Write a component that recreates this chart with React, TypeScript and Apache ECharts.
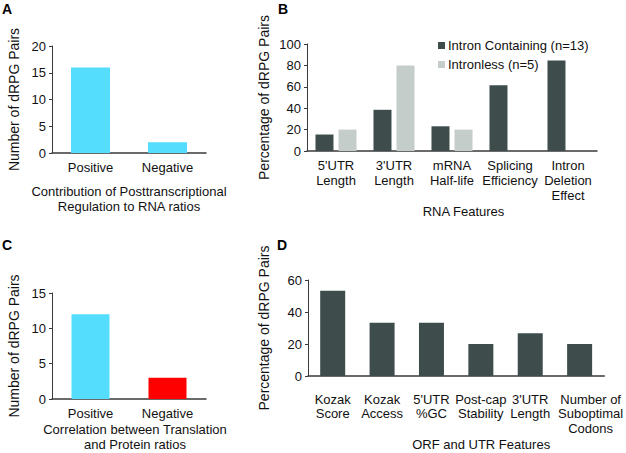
import React, { useEffect, useRef } from "react";
import * as echarts from "echarts";

const catsA = ["Positive", "Negative"];
const valsA = [16, 2];

const catsB = ["5'UTR\nLength", "3'UTR\nLength", "mRNA\nHalf-life", "Splicing\nEfficiency", "Intron\nDeletion\nEffect"];
const intronContaining = [15.4, 38.5, 23.1, 61.5, 84.6];
const intronless: (number | null)[] = [20, 80, 20, null, null];

const catsC = ["Positive", "Negative"];
const valsC = [12, 3];

const catsD = ["Kozak\nScore", "Kozak\nAccess", "5'UTR\n%GC", "Post-cap\nStability", "3'UTR\nLength", "Number of\nSuboptimal\nCodons"];
const valsD = [53.3, 33.3, 33.3, 20, 26.7, 20];

const FONT = "Liberation Sans, Arial, sans-serif";
const TXT = "#111";
const AXIS = "#3a3a3a";
const CYAN = "#55DDFE";
const RED = "#FF0000";
const DARK = "#3E4C4C";
const LIGHT = "#C4CDCA";
const FS = 13;

function yAxis(gridIndex: number, max: number, interval: number, name: string, gap: number) {
  return {
    type: "value",
    gridIndex,
    min: 0,
    max,
    interval,
    name,
    nameLocation: "middle",
    nameGap: gap,
    nameTextStyle: { fontFamily: FONT, fontSize: 14, color: TXT },
    axisLine: { show: true, lineStyle: { color: AXIS, width: 1 } },
    axisTick: { show: true, length: 3, lineStyle: { color: AXIS } },
    splitLine: { show: false },
    axisLabel: { fontFamily: FONT, fontSize: FS, color: TXT, margin: 6 },
  };
}

function xAxis(gridIndex: number, data: any[], name: string, gap: number, padLeft: number, margin: number, lh: number) {
  return {
    type: "category",
    gridIndex,
    data,
    name,
    nameLocation: "middle",
    nameGap: gap,
    nameTextStyle: { fontFamily: FONT, fontSize: FS, color: TXT, lineHeight: 15, padding: [0, 0, 0, padLeft] },
    axisLine: { show: true, lineStyle: { color: AXIS, width: 1.5 } },
    axisTick: { show: false },
    axisLabel: { fontFamily: FONT, fontSize: FS, color: TXT, margin, lineHeight: lh, interval: 0 },
  };
}

export default function App() {
  const ref = useRef<HTMLDivElement>(null);
  useEffect(() => {
    if (!ref.current) return;
    const chart = echarts.init(ref.current, null, { renderer: "svg" });
    const letter = (t: string, x: number, y: number) => ({
      type: "text",
      left: x,
      top: y,
      style: { text: t, fontFamily: FONT, fontSize: 14, fontWeight: "bold", fill: "#000" },
    });
    const dataD = catsD.map((c, i) =>
      i === catsD.length - 1 ? { value: c, textStyle: { padding: [0, 0, 0, 22] } } : c
    );
    chart.setOption({
      animation: false,
      backgroundColor: "#fff",
      grid: [
        { left: 52, top: 46, width: 154, height: 107 },
        { left: 307, top: 44, width: 290, height: 107 },
        { left: 52, top: 293, width: 154, height: 107 },
        { left: 308, top: 280, width: 298, height: 97 },
      ],
      xAxis: [
        xAxis(0, catsA, "Contribution of Posttranscriptional\nRegulation to RNA ratios", 31, 0, 7, 15),
        xAxis(1, catsB, "RNA Features", 50, 23, 7, 15),
        xAxis(2, catsC, "Correlation between Translation\nand Protein ratios", 23, 12, 7, 15),
        xAxis(3, dataD, "ORF and UTR Features", 61, 50, 16, 14.5),
      ],
      yAxis: [
        yAxis(0, 20, 5, "Number of dRPG Pairs", 31),
        yAxis(1, 100, 20, "Percentage of dRPG Pairs", 36),
        yAxis(2, 15, 5, "Number of dRPG Pairs", 31),
        yAxis(3, 60, 20, "Percentage of dRPG Pairs", 37),
      ],
      legend: {
        orient: "vertical",
        left: 433,
        top: 34,
        itemWidth: 7,
        itemHeight: 7,
        itemGap: 6,
        icon: "rect",
        textStyle: { fontFamily: FONT, fontSize: FS, color: TXT, padding: [0, 0, 0, -2] },
        data: ["Intron Containing (n=13)", "Intronless (n=5)"],
      },
      series: [
        { type: "bar", xAxisIndex: 0, yAxisIndex: 0, data: valsA, barWidth: 39, itemStyle: { color: CYAN } },
        { type: "bar", name: "Intron Containing (n=13)", xAxisIndex: 1, yAxisIndex: 1, data: intronContaining, barWidth: 18, barGap: "28%", itemStyle: { color: DARK } },
        { type: "bar", name: "Intronless (n=5)", xAxisIndex: 1, yAxisIndex: 1, data: intronless, barWidth: 18, barGap: "28%", itemStyle: { color: LIGHT } },
        {
          type: "bar", xAxisIndex: 2, yAxisIndex: 2, barWidth: 38,
          data: valsC.map((v, i) => ({ value: v, itemStyle: { color: i === 0 ? CYAN : RED } })),
        },
        { type: "bar", xAxisIndex: 3, yAxisIndex: 3, data: valsD, barWidth: 25, itemStyle: { color: DARK } },
      ],
      graphic: [letter("A", 2, 2), letter("B", 278, 2), letter("C", 2, 238), letter("D", 277, 238)],
    });
    return () => chart.dispose();
  }, []);
  return <div ref={ref} style={{ position: "fixed", left: 0, top: 0, width: 626, height: 453 }} />;
}
